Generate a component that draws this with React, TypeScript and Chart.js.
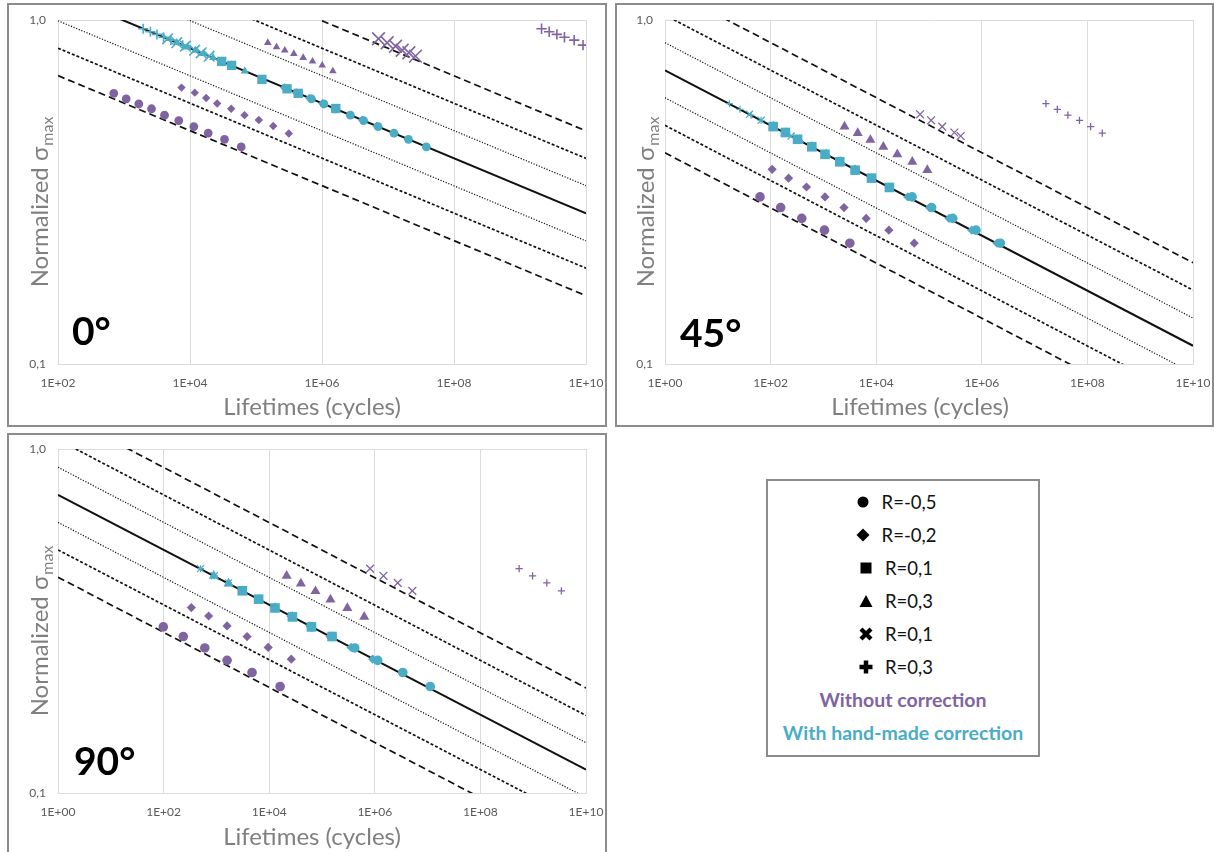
import React, { useEffect, useRef } from 'react';
import { Chart, registerables } from 'chart.js';

Chart.register(...registerables);

const PURPLE = '#8064A2';
const CYAN = '#4BACC6';

// ---------- axis ticks ----------
const xTicks0 = [1e2, 1e4, 1e6, 1e8, 1e10];
const xTickLabels0 = ['1E+02', '1E+04', '1E+06', '1E+08', '1E+10'];
const xTicksWide = [1e0, 1e2, 1e4, 1e6, 1e8, 1e10];
const xTickLabelsWide = ['1E+00', '1E+02', '1E+04', '1E+06', '1E+08', '1E+10'];
const yTicks = [0.1, 1];
const yTickLabels = ['0,1', '1,0'];

// ---------- fit lines (value at x-min, value at x-max), k = -3..+3 ----------
const p0LineAtMin = [0.689, 0.828, 0.995, 1.197, 1.439, 1.73, 2.08];
const p0LineAtMax = [0.158, 0.19, 0.228, 0.274, 0.33, 0.396, 0.476];
const p45LineAtMin = [0.411, 0.494, 0.594, 0.714, 0.859, 1.033, 1.242];
const p45LineAtMax = [0.065, 0.078, 0.094, 0.113, 0.136, 0.164, 0.197];
const p90LineAtMin = [0.424, 0.509, 0.612, 0.736, 0.885, 1.064, 1.279];
const p90LineAtMax = [0.067, 0.081, 0.097, 0.117, 0.14, 0.168, 0.202];

// ---------- 0° data ----------
const p0PurpleCircleN = [700, 1079, 1675, 2612, 4111, 6761, 11430, 18880, 33340, 59700];
const p0PurpleCircleS = [0.612, 0.59, 0.57, 0.552, 0.529, 0.51, 0.49, 0.469, 0.45, 0.428];
const p0PurpleDiamondN = [7430, 11830, 17580, 25820, 42070, 66990, 110200, 182400, 314100];
const p0PurpleDiamondS = [0.636, 0.615, 0.593, 0.572, 0.552, 0.529, 0.512, 0.492, 0.468];
const p0PurpleTriangleN = [151000, 204600, 272900, 374100, 518800, 717800, 1.007e6, 1.459e6];
const p0PurpleTriangleS = [0.859, 0.834, 0.816, 0.798, 0.777, 0.758, 0.738, 0.71];
const p0PurpleXN = [7.18e6, 9.72e6, 1.3e7, 1.64e7, 2.07e7, 2.61e7];
const p0PurpleXS = [0.882, 0.859, 0.839, 0.817, 0.803, 0.785];
const p0PurplePlusN = [2.12e9, 2.77e9, 3.62e9, 4.72e9, 6.62e9, 9.02e9];
const p0PurplePlusS = [0.943, 0.924, 0.908, 0.891, 0.874, 0.845];

const p0CyanPlusN = [1950, 2510, 3160, 3980, 5130, 7760];
const p0CyanPlusS = [0.943, 0.924, 0.908, 0.891, 0.874, 0.845];
const p0CyanXN = [4570, 6310, 8510, 11750, 14790, 19500];
const p0CyanXS = [0.882, 0.859, 0.839, 0.817, 0.803, 0.785];
const p0CyanTriangleN = [6310, 9120, 12020, 15850, 22390, 30200, 42660, 67610];
const p0CyanTriangleS = [0.859, 0.834, 0.816, 0.798, 0.777, 0.758, 0.738, 0.71];
const p0CyanSquareN = [30200, 42660, 123000, 295100, 436500, 1.62e6];
const p0CyanSquareS = [0.758, 0.738, 0.672, 0.631, 0.612, 0.553];
const p0CyanDiamondN = [269200, 407400, 645700, 1.02e6, 1.58e6, 2.69e6, 4.07e6, 6.76e6, 1.26e7];
const p0CyanDiamondS = [0.636, 0.615, 0.593, 0.572, 0.552, 0.529, 0.512, 0.492, 0.468];
const p0CyanCircleN = [436500, 691800, 1.07e6, 1.58e6, 2.69e6, 4.27e6, 7.08e6, 1.23e7, 2.04e7, 3.8e7];
const p0CyanCircleS = [0.612, 0.59, 0.57, 0.552, 0.529, 0.51, 0.49, 0.469, 0.45, 0.428];

// ---------- 45° data ----------
const p45PurpleCircleN = [63, 155, 389, 1047, 3162];
const p45PurpleCircleS = [0.306, 0.285, 0.265, 0.245, 0.2245];
const p45PurpleDiamondN = [107, 219, 479, 1072, 2455, 6457, 17380, 52480];
const p45PurpleDiamondS = [0.368, 0.347, 0.327, 0.306, 0.285, 0.265, 0.245, 0.2245];
const p45PurpleTriangleN = [2512, 4467, 7762, 13650, 25120, 48310, 92900];
const p45PurpleTriangleS = [0.49, 0.469, 0.448, 0.428, 0.407, 0.387, 0.366];
const p45PurpleXN = [67610, 109600, 177800, 302000, 398100];
const p45PurpleXS = [0.532, 0.511, 0.49, 0.471, 0.46];
const p45PurplePlusN = [1.64e7, 2.69e7, 4.27e7, 7.08e7, 1.15e8, 1.91e8];
const p45PurplePlusS = [0.571, 0.55, 0.529, 0.511, 0.49, 0.469];

const p45CyanPlusN = [16.6, 26.3, 42.7, 66.1, 112, 195];
const p45CyanPlusS = [0.571, 0.55, 0.529, 0.511, 0.49, 0.469];
const p45CyanXN = [39.8, 66.1, 112, 182, 245];
const p45CyanXS = [0.532, 0.511, 0.49, 0.471, 0.46];
const p45CyanTriangleN = [112, 195, 347, 603, 1122, 2138, 3981];
const p45CyanTriangleS = [0.49, 0.469, 0.448, 0.428, 0.407, 0.387, 0.366];
const p45CyanSquareN = [112, 191, 324, 603, 1072, 2042, 3981, 8128, 17780];
const p45CyanSquareS = [0.49, 0.471, 0.45, 0.428, 0.407, 0.387, 0.366, 0.347, 0.326];
const p45CyanDiamondN = [3981, 8318, 17380, 39810, 102300, 239900, 645700, 1.95e6];
const p45CyanDiamondS = [0.368, 0.347, 0.327, 0.306, 0.285, 0.265, 0.245, 0.2245];
const p45CyanCircleN = [47860, 112200, 281800, 776200, 2.24e6];
const p45CyanCircleS = [0.306, 0.285, 0.265, 0.245, 0.2245];

// ---------- 90° data ----------
const p90PurpleCircleN = [98.6, 236, 603, 1592, 4732, 16110];
const p90PurpleCircleS = [0.304, 0.285, 0.264, 0.243, 0.224, 0.204];
const p90PurpleDiamondN = [335, 713, 1592, 3811, 9572, 26180];
const p90PurpleDiamondS = [0.346, 0.327, 0.306, 0.285, 0.265, 0.245];
const p90PurpleTriangleN = [21380, 39810, 75160, 144500, 302000, 631000];
const p90PurpleTriangleS = [0.428, 0.406, 0.386, 0.365, 0.345, 0.325];
const p90PurpleXN = [812800, 1.459e6, 2.716e6, 5.14e6];
const p90PurpleXS = [0.449, 0.428, 0.408, 0.387];
const p90PurplePlusN = [5.42e8, 9.73e8, 1.81e9, 3.42e9];
const p90PurplePlusS = [0.449, 0.428, 0.408, 0.387];

const p90CyanPlusN = [501, 912, 1698, 3090];
const p90CyanPlusS = [0.449, 0.428, 0.408, 0.387];
const p90CyanXN = [501, 912, 1698, 3090];
const p90CyanXS = [0.449, 0.428, 0.408, 0.387];
const p90CyanTriangleN = [891, 1698, 3162, 6457, 12880, 27540];
const p90CyanTriangleS = [0.428, 0.406, 0.386, 0.365, 0.345, 0.325];
const p90CyanSquareN = [3090, 6310, 12880, 27540, 63100, 154900];
const p90CyanSquareS = [0.387, 0.366, 0.345, 0.325, 0.304, 0.285];
const p90CyanDiamondN = [12590, 25700, 58880, 141300, 354800, 912000];
const p90CyanDiamondS = [0.346, 0.327, 0.306, 0.285, 0.265, 0.245];
const p90CyanCircleN = [63100, 154900, 416900, 1.135e6, 3.39e6, 1.122e7];
const p90CyanCircleS = [0.304, 0.285, 0.264, 0.243, 0.224, 0.204];

// ---------- legend ----------
const legendShapes = ['circle', 'diamond', 'square', 'triangle', 'x', 'plus'];
const legendLabels = ['R=-0,5', 'R=-0,2', 'R=0,1', 'R=0,3', 'R=0,1', 'R=0,3'];
const legendGroupLabels = ['Without correction', 'With hand-made correction'];

// ---------- styles ----------
const lineStyles = [
  { dash: [7, 4], width: 1.7 },
  { dash: [3, 2], width: 1.7 },
  { dash: [1.2, 1.6], width: 1.2 },
  { dash: [], width: 2 },
  { dash: [1.2, 1.6], width: 1.2 },
  { dash: [3, 2], width: 1.7 },
  { dash: [7, 4], width: 1.7 },
];

type Series = { n: number[]; s: number[]; color: string; style: string; r: number; bw?: number };

const bigSizes = { circle: 4.8, diamond: 4.6, triangle: 5.8, square: 6.8, px: 5.5, pplus: 3.6, cx: 5, cplus: 3.5 };

const mk = (n: number[], s: number[], color: string, style: string, r: number, bw = 0): Series => ({ n, s, color, style, r, bw });

const panels = [
  {
    key: 'p0', angle: '0°', left: 8, top: 4, width: 598, height: 422,
    yAxisW: 50, padTop: 16, padRight: 20, xAxisH: 62,
    xMin: 1e2, xMax: 1e10, xTicks: xTicks0, xTickLabels: xTickLabels0,
    lineMin: p0LineAtMin, lineMax: p0LineAtMax,
    yTitleX: 32, angleDx: 14, angleBase: 19,
    series: [
      mk(p0PurplePlusN, p0PurplePlusS, PURPLE, 'cross', 5.2, 1.6),
      mk(p0PurpleXN, p0PurpleXS, PURPLE, 'crossRot', 9, 1.6),
      mk(p0PurpleCircleN, p0PurpleCircleS, PURPLE, 'circle', 4.4),
      mk(p0PurpleDiamondN, p0PurpleDiamondS, PURPLE, 'rectRot', 4.2),
      mk(p0PurpleTriangleN, p0PurpleTriangleS, PURPLE, 'triangle', 4.4),
      mk(p0CyanCircleN, p0CyanCircleS, CYAN, 'circle', 4.4),
      mk(p0CyanSquareN, p0CyanSquareS, CYAN, 'rect', 6.6),
      mk(p0CyanDiamondN, p0CyanDiamondS, CYAN, 'rectRot', 4.4),
      mk(p0CyanTriangleN, p0CyanTriangleS, CYAN, 'triangle', 4.8),
      mk(p0CyanXN, p0CyanXS, CYAN, 'crossRot', 7.5, 1.6),
      mk(p0CyanPlusN, p0CyanPlusS, CYAN, 'cross', 5, 1.6),
    ],
  },
  {
    key: 'p45', angle: '45°', left: 616, top: 4, width: 597, height: 422,
    yAxisW: 49, padTop: 16, padRight: 20, xAxisH: 62,
    xMin: 1e0, xMax: 1e10, xTicks: xTicksWide, xTickLabels: xTickLabelsWide,
    lineMin: p45LineAtMin, lineMax: p45LineAtMax,
    yTitleX: 30, angleDx: 15, angleBase: 17,
    series: [
      mk(p45PurplePlusN, p45PurplePlusS, PURPLE, 'cross', bigSizes.pplus, 1.3),
      mk(p45PurpleXN, p45PurpleXS, PURPLE, 'crossRot', bigSizes.px, 1.3),
      mk(p45PurpleCircleN, p45PurpleCircleS, PURPLE, 'circle', bigSizes.circle),
      mk(p45PurpleDiamondN, p45PurpleDiamondS, PURPLE, 'rectRot', bigSizes.diamond),
      mk(p45PurpleTriangleN, p45PurpleTriangleS, PURPLE, 'triangle', bigSizes.triangle),
      mk(p45CyanCircleN, p45CyanCircleS, CYAN, 'circle', bigSizes.circle),
      mk(p45CyanSquareN, p45CyanSquareS, CYAN, 'rect', bigSizes.square),
      mk(p45CyanDiamondN, p45CyanDiamondS, CYAN, 'rectRot', bigSizes.diamond),
      mk(p45CyanTriangleN, p45CyanTriangleS, CYAN, 'triangle', bigSizes.triangle),
      mk(p45CyanXN, p45CyanXS, CYAN, 'crossRot', bigSizes.cx, 1.2),
      mk(p45CyanPlusN, p45CyanPlusS, CYAN, 'cross', bigSizes.cplus, 1.2),
    ],
  },
  {
    key: 'p90', angle: '90°', left: 8, top: 434, width: 598, height: 422,
    yAxisW: 50, padTop: 15, padRight: 20, xAxisH: 63,
    xMin: 1e0, xMax: 1e10, xTicks: xTicksWide, xTickLabels: xTickLabelsWide,
    lineMin: p90LineAtMin, lineMax: p90LineAtMax,
    yTitleX: 32, angleDx: 16, angleBase: 18,
    series: [
      mk(p90PurplePlusN, p90PurplePlusS, PURPLE, 'cross', bigSizes.pplus, 1.3),
      mk(p90PurpleXN, p90PurpleXS, PURPLE, 'crossRot', bigSizes.px, 1.3),
      mk(p90PurpleCircleN, p90PurpleCircleS, PURPLE, 'circle', bigSizes.circle),
      mk(p90PurpleDiamondN, p90PurpleDiamondS, PURPLE, 'rectRot', bigSizes.diamond),
      mk(p90PurpleTriangleN, p90PurpleTriangleS, PURPLE, 'triangle', bigSizes.triangle),
      mk(p90CyanCircleN, p90CyanCircleS, CYAN, 'circle', bigSizes.circle),
      mk(p90CyanSquareN, p90CyanSquareS, CYAN, 'rect', bigSizes.square),
      mk(p90CyanDiamondN, p90CyanDiamondS, CYAN, 'rectRot', bigSizes.diamond),
      mk(p90CyanTriangleN, p90CyanTriangleS, CYAN, 'triangle', bigSizes.triangle),
      mk(p90CyanXN, p90CyanXS, CYAN, 'crossRot', bigSizes.cx, 1.2),
      mk(p90CyanPlusN, p90CyanPlusS, CYAN, 'cross', bigSizes.cplus, 1.2),
    ],
  },
];

type PanelCfg = (typeof panels)[number];

const FONT = 'Lato, "Open Sans", sans-serif';

function labelFor(v: number, ticks: number[], labels: string[]) {
  for (let i = 0; i < ticks.length; i++) {
    if (Math.abs(Math.log10(v) - Math.log10(ticks[i])) < 1e-6) return labels[i];
  }
  return '';
}

function Panel({ cfg }: { cfg: PanelCfg }) {
  const ref = useRef<HTMLCanvasElement | null>(null);
  useEffect(() => {
    if (!ref.current) return;
    const lineSets = cfg.lineMin.map((v, i) => ({
      type: 'scatter' as const,
      data: [{ x: cfg.xMin, y: v }, { x: cfg.xMax, y: cfg.lineMax[i] }],
      showLine: true,
      borderColor: '#111',
      borderWidth: lineStyles[i].width,
      borderDash: lineStyles[i].dash,
      pointRadius: 0,
      clip: 0,
      order: 100,
    }));
    const markerSets = cfg.series.map((s, i) => ({
      type: 'scatter' as const,
      data: s.n.map((n, j) => ({ x: n, y: s.s[j] })),
      pointStyle: s.style,
      pointRadius: s.r,
      backgroundColor: s.color,
      borderColor: s.color,
      borderWidth: s.bw || 0,
      order: 50 - i,
    }));

    const textPlugin = {
      id: 'panelText',
      afterDraw(chart: any) {
        const { ctx, chartArea } = chart;
        ctx.save();
        // angle label
        ctx.font = `bold 39px ${FONT}`;
        ctx.fillStyle = '#000';
        ctx.textAlign = 'left';
        ctx.textBaseline = 'alphabetic';
        ctx.fillText(cfg.angle, chartArea.left + cfg.angleDx, chartArea.bottom - cfg.angleBase);
        // x title
        ctx.font = `24px ${FONT}`;
        ctx.fillStyle = '#808080';
        ctx.textAlign = 'center';
        ctx.fillText('Lifetimes (cycles)', 304, 411);
        // y title with subscript
        const cy = (chartArea.top + chartArea.bottom) / 2 + 10.5;
        ctx.translate(cfg.yTitleX, cy);
        ctx.rotate(-Math.PI / 2);
        ctx.textAlign = 'left';
        const main = 'Normalized σ';
        const sub = 'max';
        ctx.font = `24px ${FONT}`;
        const w1 = ctx.measureText(main).width;
        ctx.font = `16px ${FONT}`;
        const w2 = ctx.measureText(sub).width;
        const start = -(w1 + w2) / 2;
        ctx.font = `24px ${FONT}`;
        ctx.fillText(main, start, 8);
        ctx.font = `16px ${FONT}`;
        ctx.fillText(sub, start + w1 + 1, 13);
        ctx.restore();
      },
    };

    const chart = new Chart(ref.current, {
      type: 'scatter',
      data: { datasets: [...markerSets, ...lineSets] as any },
      options: {
        animation: false,
        responsive: false,
        events: [],
        layout: { padding: { top: cfg.padTop, right: cfg.padRight, left: 0, bottom: 0 } },
        plugins: { legend: { display: false }, tooltip: { enabled: false } },
        scales: {
          x: {
            type: 'logarithmic',
            min: cfg.xMin,
            max: cfg.xMax,
            afterBuildTicks: (s: any) => { s.ticks = cfg.xTicks.map((v) => ({ value: v })); },
            afterFit: (s: any) => { s.height = cfg.xAxisH; s.paddingLeft = 0; s.paddingRight = 0; },
            ticks: {
              autoSkip: false,
              maxRotation: 0,
              padding: 12,
              color: '#595959',
              font: { family: FONT, size: 12 },
              callback: (v: any) => labelFor(Number(v), cfg.xTicks, cfg.xTickLabels),
            },
            grid: { color: '#dcdcdc', drawTicks: false, lineWidth: 1 },
            border: { color: '#dcdcdc' },
          },
          y: {
            type: 'logarithmic',
            min: 0.1,
            max: 1,
            afterBuildTicks: (s: any) => { s.ticks = yTicks.map((v) => ({ value: v })); },
            afterFit: (s: any) => { s.width = cfg.yAxisW; s.paddingTop = 0; s.paddingBottom = 0; },
            ticks: {
              autoSkip: false,
              padding: 12,
              color: '#595959',
              font: { family: FONT, size: 12 },
              callback: (v: any) => labelFor(Number(v), yTicks, yTickLabels),
            },
            grid: { color: '#dcdcdc', drawTicks: false, lineWidth: 1 },
            border: { color: '#dcdcdc' },
          },
        },
      } as any,
      plugins: [textPlugin],
    });
    return () => chart.destroy();
  }, [cfg]);

  return (
    <>
      <canvas
        ref={ref}
        width={cfg.width}
        height={cfg.height}
        style={{ position: 'absolute', left: cfg.left, top: cfg.top, width: cfg.width, height: cfg.height }}
      />
      <div
        style={{
          position: 'absolute',
          left: cfg.left - 1,
          top: cfg.top - 1,
          width: cfg.width + 2,
          height: cfg.height + 2,
          border: '2px solid #8c8c8c',
          boxSizing: 'border-box',
          pointerEvents: 'none',
        }}
      />
    </>
  );
}

function Symbol({ shape }: { shape: string }) {
  const c = '#000';
  let el: any = null;
  if (shape === 'circle') el = <circle cx={7} cy={7} r={5.5} fill={c} />;
  else if (shape === 'diamond') el = <polygon points="7,0.5 13.5,7 7,13.5 0.5,7" fill={c} />;
  else if (shape === 'square') el = <rect x={1.5} y={1.5} width={11} height={11} fill={c} />;
  else if (shape === 'triangle') el = <polygon points="7,1 13.5,13 0.5,13" fill={c} />;
  else if (shape === 'x')
    el = (
      <g stroke={c} strokeWidth={4.2} strokeLinecap="butt">
        <line x1={2} y1={2} x2={12} y2={12} />
        <line x1={12} y1={2} x2={2} y2={12} />
      </g>
    );
  else if (shape === 'plus')
    el = (
      <g stroke={c} strokeWidth={4.5}>
        <line x1={7} y1={0.5} x2={7} y2={13.5} />
        <line x1={0.5} y1={7} x2={13.5} y2={7} />
      </g>
    );
  return (
    <svg width={14} height={14} style={{ display: 'block' }}>
      {el}
    </svg>
  );
}

function Legend() {
  return (
    <div
      style={{
        position: 'absolute',
        left: 766,
        top: 479,
        width: 274,
        height: 278,
        border: '2px solid #8c8c8c',
        boxSizing: 'border-box',
        paddingTop: 4,
        fontFamily: FONT,
        fontSize: 18.5,
        color: '#111',
        background: '#fff',
      }}
    >
      {legendLabels.map((lab, i) => (
        <div key={i} style={{ height: 33, display: 'flex', justifyContent: 'center', alignItems: 'center', paddingRight: 14 }}>
          <Symbol shape={legendShapes[i]} />
          <span style={{ marginLeft: 12 }}>{lab}</span>
        </div>
      ))}
      <div style={{ height: 33, display: 'flex', justifyContent: 'center', alignItems: 'center', color: PURPLE, fontWeight: 700, fontSize: 19.5 }}>
        {legendGroupLabels[0]}
      </div>
      <div style={{ height: 33, display: 'flex', justifyContent: 'center', alignItems: 'center', color: CYAN, fontWeight: 700, fontSize: 19.5 }}>
        {legendGroupLabels[1]}
      </div>
    </div>
  );
}

export default function App() {
  return (
    <div
      style={{
        position: 'absolute',
        left: 0,
        top: 0,
        width: 1214,
        height: 852,
        overflow: 'hidden',
        background: '#fff',
      }}
    >
      {panels.map((p) => (
        <Panel key={p.key} cfg={p} />
      ))}
      <Legend />
    </div>
  );
}
